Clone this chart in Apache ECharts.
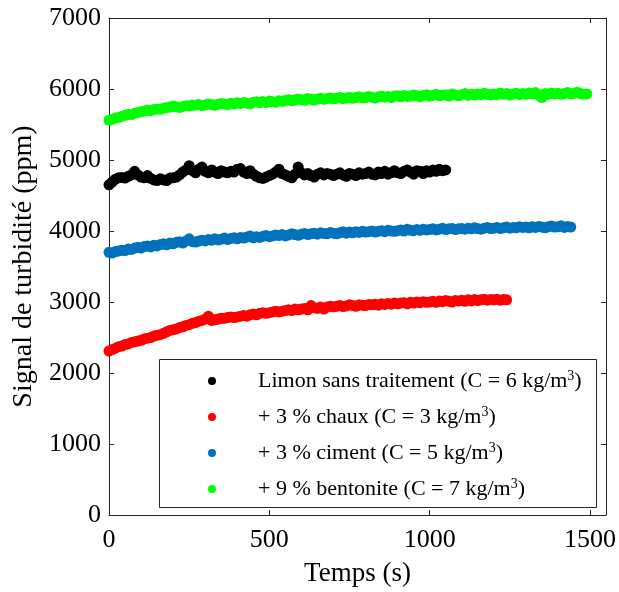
<!DOCTYPE html>
<html>
<head>
<meta charset="utf-8">
<script src="https://cdn.jsdelivr.net/npm/echarts@6/dist/echarts.min.js"></script>
<style>
html,body{margin:0;padding:0;background:#fff;}
#chart{width:619px;height:592px;}
</style>
</head>
<body>
<div id="chart"></div>
<script>
// ---- data ----
const sampleStep = 10; // s between recorded samples
const seriesNames = [
  'Limon sans traitement (C = 6 kg/m',
  '+ 3 % chaux (C = 3 kg/m',
  '+ 3 % ciment (C = 5 kg/m',
  '+ 9 % bentonite (C = 7 kg/m'
];
const seriesColors = ['#000000', '#ff0000', '#0072bd', '#00ff00'];

const limon = [
  4650,4690,4730,4750,4755,4745,4770,4790,4840,4790,
  4760,4750,4780,4740,4720,4710,4735,4720,4710,4745,
  4750,4760,4790,4830,4860,4920,4850,4820,4870,4900,
  4840,4820,4860,4830,4810,4850,4830,4820,4840,4830,
  4870,4880,4830,4810,4850,4800,4770,4750,4740,4760,
  4780,4800,4830,4870,4810,4790,4770,4750,4800,4900,
  4820,4790,4810,4780,4760,4800,4820,4790,4810,4800,
  4780,4800,4820,4790,4770,4810,4800,4780,4820,4800,
  4810,4830,4800,4790,4830,4810,4840,4800,4820,4850,
  4820,4810,4840,4860,4830,4800,4850,4840,4810,4850,
  4830,4860,4840,4870,4850,4860
];
const chaux = [
  2310,2330,2350,2370,2380,2400,2410,2430,2440,2450,
  2460,2480,2490,2500,2520,2530,2540,2560,2580,2600,
  2610,2620,2640,2650,2670,2680,2700,2710,2730,2740,
  2760,2800,2740,2750,2760,2770,2770,2780,2790,2780,
  2790,2800,2810,2800,2820,2830,2820,2840,2850,2840,
  2850,2860,2870,2860,2870,2880,2890,2880,2900,2890,
  2900,2910,2890,2950,2920,2910,2930,2900,2930,2940,
  2930,2940,2950,2935,2945,2960,2950,2940,2960,2955,
  2950,2965,2960,2970,2955,2975,2965,2980,2970,2985,
  2975,2985,2990,2975,2995,2985,3000,2990,3005,2995,
  3000,3010,2995,3015,3005,3020,3010,3000,3020,3015,
  3025,3010,3030,3015,3035,3020,3030,3040,3025,3035,
  3030,3040,3025,3035,3030
];
const ciment = [
  3700,3690,3710,3720,3730,3725,3745,3740,3760,3770,
  3760,3780,3790,3775,3800,3790,3810,3820,3805,3830,
  3820,3840,3850,3830,3860,3890,3850,3845,3860,3870,
  3860,3880,3870,3890,3875,3885,3900,3880,3895,3905,
  3890,3910,3900,3915,3930,3905,3920,3910,3925,3935,
  3920,3930,3945,3935,3950,3930,3945,3960,3950,3940,
  3955,3965,3950,3960,3970,3955,3975,3965,3960,3980,
  3970,3960,3975,3990,3970,3985,3975,3990,3980,3995,
  3985,3990,4000,3985,3995,4005,3990,4010,4000,3995,
  4005,4015,4000,4025,4010,4005,4020,4010,4025,4015,
  4020,4030,4015,4025,4040,4020,4030,4035,4020,4030,
  4035,4025,4040,4030,4045,4035,4025,4040,4050,4035,
  4040,4050,4035,4045,4055,4040,4050,4045,4060,4050,
  4055,4045,4060,4050,4065,4055,4045,4060,4070,4055,
  4060,4075,4050,4065,4055
];
const bentonite = [
  5560,5575,5590,5600,5615,5630,5645,5640,5660,5670,
  5680,5690,5700,5695,5710,5720,5715,5730,5740,5745,
  5760,5750,5740,5755,5765,5760,5775,5770,5780,5765,
  5775,5790,5780,5770,5785,5795,5790,5780,5800,5790,
  5805,5795,5810,5800,5790,5815,5820,5805,5825,5810,
  5830,5820,5815,5835,5825,5840,5850,5835,5845,5860,
  5850,5840,5865,5855,5845,5860,5870,5855,5865,5875,
  5860,5870,5880,5865,5875,5885,5870,5880,5890,5875,
  5880,5895,5885,5870,5890,5900,5885,5895,5880,5900,
  5905,5890,5910,5895,5900,5915,5905,5890,5910,5920,
  5900,5910,5925,5905,5915,5920,5900,5930,5915,5905,
  5920,5935,5910,5925,5915,5930,5920,5940,5925,5915,
  5930,5920,5945,5925,5935,5915,5930,5940,5920,5935,
  5925,5945,5930,5950,5915,5880,5935,5925,5945,5930,
  5940,5925,5935,5950,5930,5940,5955,5935,5925,5930
];
const xTicks = [0, 500, 1000, 1500];
const yTicks = [0, 1000, 2000, 3000, 4000, 5000, 6000, 7000];

// ---- chart ----
const allValues = [limon, chaux, ciment, bentonite];
const toPoints = arr => arr.map((v, i) => [i * sampleStep, v]);

const FONT = '"Liberation Serif", "Times New Roman", serif';
const AX = '#262626';

const chart = echarts.init(document.getElementById('chart'), null, {renderer: 'canvas'});

function baseAxis() {
  return {
    axisLine: {show: true, onZero: false, lineStyle: {color: AX, width: 1}},
    axisTick: {show: true, inside: true, length: 5, lineStyle: {color: AX}},
    splitLine: {show: false},
    minorTick: {show: false}
  };
}

const option = {
  animation: false,
  backgroundColor: '#ffffff',
  grid: {left: 109, top: 18, width: 498, height: 501, containLabel: false},
  xAxis: [
    Object.assign(baseAxis(), {
      type: 'value', position: 'bottom',
      min: xTicks[0], max: 1550, interval: 500,
      name: 'Temps (s)', nameLocation: 'middle', nameGap: 45,
      nameTextStyle: {fontFamily: FONT, fontSize: 27, color: '#000'},
      axisLabel: {fontFamily: FONT, fontSize: 26, color: '#000', margin: 12,
        showMaxLabel: false,
        formatter: v => (xTicks.indexOf(v) >= 0 ? String(v) : '')}
    }),
    Object.assign(baseAxis(), {
      type: 'value', position: 'top',
      min: xTicks[0], max: 1550, interval: 500,
      axisLabel: {show: false}
    })
  ],
  yAxis: [
    Object.assign(baseAxis(), {
      type: 'value', position: 'left',
      min: yTicks[0], max: yTicks[yTicks.length - 1], interval: 1000,
      name: 'Signal de turbidité (ppm)', nameLocation: 'middle', nameGap: 61,
      nameTextStyle: {fontFamily: FONT, fontSize: 28, color: '#000'},
      axisLabel: {fontFamily: FONT, fontSize: 26, color: '#000', margin: 8,
        formatter: v => String(v)}
    }),
    Object.assign(baseAxis(), {
      type: 'value', position: 'right',
      min: yTicks[0], max: yTicks[yTicks.length - 1], interval: 1000,
      axisLabel: {show: false}
    })
  ],
  legend: {
    show: true,
    orient: 'vertical',
    left: 208, top: 369,
    padding: 0,
    itemWidth: 82, itemHeight: 8, itemGap: 13,
    icon: 'circle',
    data: seriesNames,
    textStyle: {
      fontFamily: FONT, fontSize: 22, color: '#000',
      rich: {
        a: {fontFamily: FONT, fontSize: 22, color: '#000', lineHeight: 24},
        s: {fontFamily: FONT, fontSize: 14, color: '#000', lineHeight: 13, verticalAlign: 'top'}
      }
    },
    formatter: name => '{a|' + name + '}{s|3}{a|)}'
  },
  graphic: [{
    type: 'rect', silent: true, z: 100,
    shape: {x: 159.5, y: 359.5, width: 437, height: 148},
    style: {fill: 'none', stroke: AX, lineWidth: 1}
  }],
  series: seriesNames.map((n, k) => ({
    name: n,
    type: 'scatter',
    xAxisIndex: 0, yAxisIndex: 0,
    symbol: 'circle',
    symbolSize: 11,
    itemStyle: {color: seriesColors[k], opacity: 1},
    data: toPoints(allValues[k]),
    z: 2
  }))
};

chart.setOption(option);
</script>
</body>
</html>
